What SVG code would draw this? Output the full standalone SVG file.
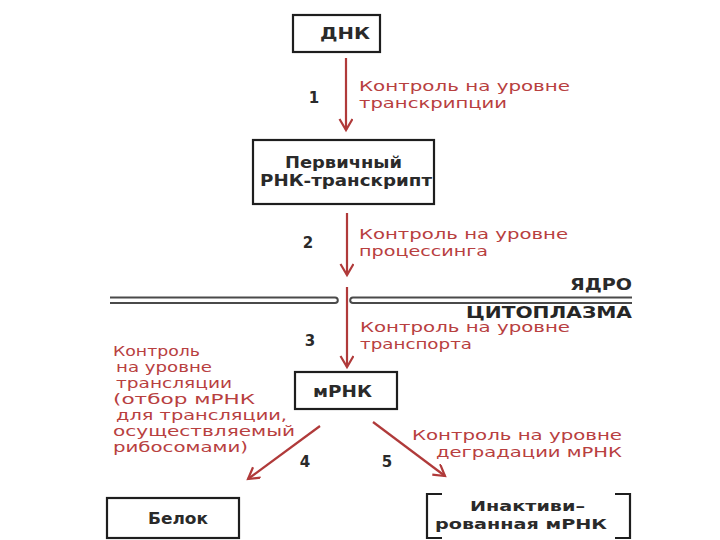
<svg xmlns="http://www.w3.org/2000/svg" width="720" height="540" viewBox="0 0 720 540">
<style>
.box{fill:#fff;stroke:#1e1e1e;stroke-width:2.2}
.bt{font-family:"DejaVu Sans",sans-serif;font-size:15.5px;font-weight:bold;fill:#2a2a2a}
.rt{font-family:"DejaVu Sans",sans-serif;font-size:14.5px;fill:#b8403f}
.lt{font-family:"DejaVu Sans",sans-serif;font-size:13.8px;fill:#b8403f}
.num{font-family:"DejaVu Sans",sans-serif;font-size:15px;font-weight:bold;fill:#2a2a2a;text-anchor:middle}
.arr{stroke:#b03a3a;stroke-width:2.2;fill:none;marker-end:url(#ah)}
.mem{stroke:#4a4a4a;stroke-width:2;fill:none}
</style>
<defs>
<marker id="ah" markerUnits="userSpaceOnUse" markerWidth="20" markerHeight="20" refX="12" refY="7" orient="auto">
<path d="M1,0.5 L12,7 L1,13.5" fill="none" stroke="#b03a3a" stroke-width="2.2"/>
</marker>
</defs>
<rect width="720" height="540" fill="#fff"/>

<g id="connectors">
<line class="arr" x1="346" y1="58" x2="346" y2="130"/>
<line class="arr" x1="347" y1="213" x2="347" y2="275"/>
<line class="arr" x1="347" y1="287" x2="347" y2="367"/>
<line class="arr" x1="320" y1="426" x2="248" y2="479"/>
<line class="arr" x1="373" y1="422" x2="445" y2="476"/>
</g>

<g id="membrane">
<path class="mem" d="M110,297.5 H335 A2.8,2.8 0 0 1 335,303.1 H110"/>
<path class="mem" d="M632,297.5 H353 A2.8,2.8 0 0 0 353,303.1 H632"/>
<text class="bt" x="570" y="290" textLength="62" lengthAdjust="spacingAndGlyphs">ЯДРО</text>
<text class="bt" x="466" y="318" textLength="166" lengthAdjust="spacingAndGlyphs" style="font-size:16px;fill:#262626">ЦИТОПЛАЗМА</text>
</g>

<g id="dna">
<rect class="box" x="293" y="15" width="87" height="37"/>
<text class="bt" x="320" y="39" textLength="50" lengthAdjust="spacingAndGlyphs">ДНК</text>
</g>

<g id="primary">
<rect class="box" x="253" y="140" width="181" height="64"/>
<text class="bt" x="285" y="168" textLength="117" lengthAdjust="spacingAndGlyphs">Первичный</text>
<text class="bt" x="260" y="186" textLength="172" lengthAdjust="spacingAndGlyphs">РНК-транскрипт</text>
</g>

<g id="mrna">
<rect class="box" x="295" y="372" width="102" height="37"/>
<text class="bt" x="313" y="397" textLength="59" lengthAdjust="spacingAndGlyphs">мРНК</text>
</g>

<g id="protein">
<rect class="box" x="107" y="498" width="132" height="40"/>
<text class="bt" x="148" y="524" textLength="60" lengthAdjust="spacingAndGlyphs">Белок</text>
</g>

<g id="inactive">
<path d="M442,494 H427 V538 H442" fill="none" stroke="#1e1e1e" stroke-width="2.2"/>
<path d="M615,494 H630 V538 H615" fill="none" stroke="#1e1e1e" stroke-width="2.2"/>
<text class="bt" x="470" y="511" textLength="115" lengthAdjust="spacingAndGlyphs" style="font-size:14.5px">Инактиви–</text>
<text class="bt" x="435" y="529" textLength="172" lengthAdjust="spacingAndGlyphs" style="font-size:14.5px">рованная мРНК</text>
</g>

<g id="labels">
<text class="num" x="314" y="103">1</text>
<text class="rt" x="359" y="91" textLength="211" lengthAdjust="spacingAndGlyphs">Контроль на уровне</text>
<text class="rt" x="359" y="108" textLength="148" lengthAdjust="spacingAndGlyphs">транскрипции</text>

<text class="num" x="308" y="248">2</text>
<text class="rt" x="359" y="239" textLength="209" lengthAdjust="spacingAndGlyphs">Контроль на уровне</text>
<text class="rt" x="359" y="256" textLength="129" lengthAdjust="spacingAndGlyphs">процессинга</text>

<text class="num" x="310" y="346">3</text>
<text class="rt" x="360" y="332" textLength="210" lengthAdjust="spacingAndGlyphs">Контроль на уровне</text>
<text class="rt" x="360" y="349" textLength="112" lengthAdjust="spacingAndGlyphs">транспорта</text>

<text class="lt" x="113" y="356" textLength="87" lengthAdjust="spacingAndGlyphs">Контроль</text>
<text class="lt" x="116" y="372" textLength="96" lengthAdjust="spacingAndGlyphs">на уровне</text>
<text class="lt" x="116" y="388" textLength="116" lengthAdjust="spacingAndGlyphs">трансляции</text>
<text class="lt" x="113" y="404" textLength="142" lengthAdjust="spacingAndGlyphs">(отбор мРНК</text>
<text class="lt" x="116" y="420" textLength="171" lengthAdjust="spacingAndGlyphs">для трансляции,</text>
<text class="lt" x="113" y="436" textLength="182" lengthAdjust="spacingAndGlyphs">осуществляемый</text>
<text class="lt" x="113" y="452" textLength="135" lengthAdjust="spacingAndGlyphs">рибосомами)</text>

<text class="num" x="305" y="467">4</text>
<text class="num" x="387" y="467">5</text>
<text class="rt" x="412" y="440" textLength="210" lengthAdjust="spacingAndGlyphs">Контроль на уровне</text>
<text class="rt" x="436" y="457" textLength="186" lengthAdjust="spacingAndGlyphs">деградации мРНК</text>
</g>
</svg>
